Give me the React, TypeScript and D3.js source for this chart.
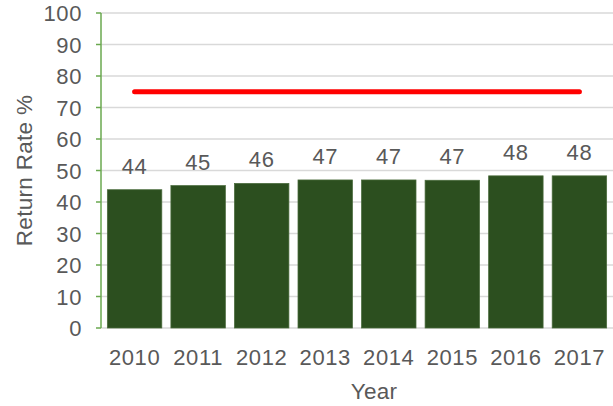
import { scaleBand, scaleLinear, format } from "d3";

const years = ["2010", "2011", "2012", "2013", "2014", "2015", "2016", "2017"];
const returnRates = [43.9, 45.2, 45.9, 47.0, 47.0, 46.9, 48.3, 48.3];
const targetRate = 75;
const yTicks = [0, 10, 20, 30, 40, 50, 60, 70, 80, 90, 100];

export default function App() {
  const width = 613;
  const height = 406;
  const left = 101;
  const right = 613;
  const top = 13;
  const bottom = 328;
  const font = "'Liberation Sans', Arial, sans-serif";
  const textColor = "#595959";

  const x = scaleBand<string>()
    .domain(years)
    .range([left, right])
    .paddingInner(0.143)
    .paddingOuter(0.1);

  const y = scaleLinear().domain([0, 100]).range([bottom, top]);
  const fmt = format(".0f");

  const firstX = (x(years[0]) ?? 0) + x.bandwidth() / 2;
  const lastX = (x(years[years.length - 1]) ?? 0) + x.bandwidth() / 2;

  return (
    <svg
      width={width}
      height={height}
      style={{ position: "absolute", left: 0, top: 0, background: "#fff" }}
      fontFamily={font}
    >
      {yTicks.map((t) => (
        <g key={t}>
          {t > 0 ? (
            <line x1={left} x2={right} y1={y(t)} y2={y(t)} stroke="#d9d9d9" strokeWidth="1.5" />
          ) : null}
          <line x1={left - 5} x2={left} y1={y(t)} y2={y(t)} stroke="#6aa84f" strokeWidth="1.5" />
          <text
            x={82}
            y={y(t) + 8}
            textAnchor="end"
            fill={textColor}
            fontSize="22"
            letterSpacing="0.6"
          >
            {t}
          </text>
        </g>
      ))}
      <line x1={left} x2={right} y1={bottom} y2={bottom} stroke="#d9d9d9" strokeWidth="1.5" />

      {years.map((yr, i) => {
        const bx = x(yr) ?? 0;
        const by = y(returnRates[i]);
        return (
          <g key={yr}>
            <rect
              x={bx}
              y={by}
              width={x.bandwidth()}
              height={bottom - by}
              fill="#2c4f1f"
              stroke="#4a6b3c"
              strokeWidth="0.75"
            />
            <text
              x={bx + x.bandwidth() / 2}
              y={by - 16}
              textAnchor="middle"
              fill={textColor}
              fontSize="22"
              letterSpacing="0.6"
            >
              {fmt(returnRates[i])}
            </text>
            <text
              x={bx + x.bandwidth() / 2}
              y={365}
              textAnchor="middle"
              fill={textColor}
              fontSize="22"
              letterSpacing="0.6"
            >
              {yr}
            </text>
          </g>
        );
      })}

      <line x1={left} x2={left} y1={top} y2={bottom} stroke="#6aa84f" strokeWidth="1.5" />

      <line
        x1={firstX}
        x2={lastX}
        y1={y(targetRate)}
        y2={y(targetRate)}
        stroke="#ff0000"
        strokeWidth="5"
        strokeLinecap="round"
      />

      <text
        x={374}
        y={399}
        textAnchor="middle"
        fill={textColor}
        fontSize="22.5"
        letterSpacing="0.3"
      >
        Year
      </text>
      <text
        transform={`translate(32, ${(top + bottom) / 2}) rotate(-90)`}
        textAnchor="middle"
        fill={textColor}
        fontSize="22.5"
        letterSpacing="0.3"
      >
        Return Rate %
      </text>
    </svg>
  );
}
